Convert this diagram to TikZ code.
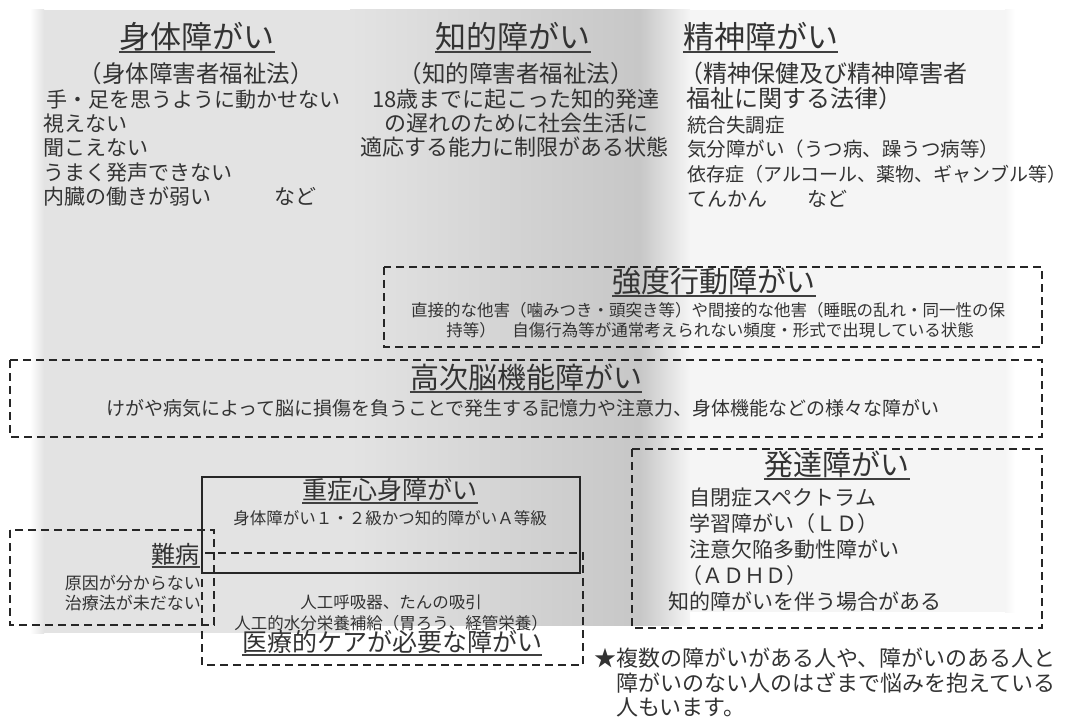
\documentclass[tikz,border=0pt]{standalone}
\usepackage{fontspec}
\newfontfamily\jp{Noto Sans CJK JP}
\newcommand{\fs}[1]{\jp\fontsize{#1}{#1}\selectfont}
\usetikzlibrary{positioning}

\tikzset{
	txt/.style={inner sep=0pt, text=black!80, text height=.86em, text depth=.1em},
	ul/.style={draw=black!75, line width=1.5pt},
	ttl/.style={txt, append after command={\pgfextra{\draw[ul] ([yshift=-2pt]\tikzlastnode.south west) -- ([yshift=-2pt]\tikzlastnode.south east);}}},
	dbox/.style={draw=black!85, line width=1.6pt, dash pattern=on 8pt off 5pt},
	sbox/.style={draw=black!85, line width=1.6pt},
}

\begin{document}
\begin{tikzpicture}[x=1pt, y=-1pt]
	\useasboundingbox (0,0) rectangle (1074,722);

	% Background columns
	\shade [left color=white, right color=black!11] 	(30,10) rectangle (44,633);
	\fill [black!11] 									(44,10) rectangle (350,633);
	\shade [left color=black!11, right color=black!22] 	(350,10) rectangle (640,625);
	\shade [left color=black!22, right color=black!4] 	(640,10) rectangle (690,625);
	\fill [black!4] 									(690,10) rectangle (1005,612);
	\shade [left color=black!4, right color=white] 		(1005,10) rectangle (1015,612);

	% Boxes
	\draw [dbox] (384,267) rectangle (1042,347);
	\draw [dbox] (10,360) rectangle (1042,437);
	\draw [dbox] (632,449) rectangle (1042,628);
	\draw [sbox] (202,477) rectangle (580,573);
	\draw [dbox] (10,530) rectangle (214,625);
	\draw [dbox] (202,553) rectangle (583,665);

	% Nodes {shintai}
	\node [ttl, font=\fs{31}] 				(shintai) 	 at (197,45)  {身体障がい};
	\node [txt, font=\fs{23.5}] 			(shintaiLaw) at (196,79)  {（身体障害者福祉法）};
	\node [txt, font=\fs{21}, anchor=west] 	(s1) 		 at (46,104)  {手・足を思うように動かせない};
	\node [txt, font=\fs{21}, anchor=west] 	(s2) 		 at (43,128)  {視えない};
	\node [txt, font=\fs{21}, anchor=west] 	(s3) 		 at (43,152)  {聞こえない};
	\node [txt, font=\fs{21}, anchor=west] 	(s4) 		 at (43,177)  {うまく発声できない};
	\node [txt, font=\fs{21}, anchor=west] 	(s5) 		 at (43,201)  {内臓の働きが弱い　　　など};

	% Nodes {chiteki}
	\node [ttl, font=\fs{31}] 				(chiteki) 	 at (513,45)  {知的障がい};
	\node [txt, font=\fs{23.5}] 			(chitekiLaw) at (516,79)  {（知的障害者福祉法）};
	\node [txt, font=\fs{22}] 				(c1) 		 at (516,104) {18歳までに起こった知的発達};
	\node [txt, font=\fs{22}] 				(c2) 		 at (516,128) {の遅れのために社会生活に};
	\node [txt, font=\fs{22}] 				(c3) 		 at (514,152) {適応する能力に制限がある状態};

	% Nodes {seishin}
	\node [ttl, font=\fs{31}, anchor=west] 	(seishin) 	 at (683,45)  {精神障がい};
	\node [txt, font=\fs{24}, anchor=west] 	(seishinLaw) at (679,79)  {（精神保健及び精神障害者};
	\node [txt, font=\fs{24}, anchor=west] 	(seishinLaw2) at (686,104) {福祉に関する法律）};
	\node [txt, font=\fs{19.5}, anchor=west] (p1) 		 at (687,129) {統合失調症};
	\node [txt, font=\fs{19.5}, anchor=west] (p2) 		 at (687,153) {気分障がい（うつ病、躁うつ病等）};
	\node [txt, font=\fs{19}, anchor=west] 	(p3) 		 at (687,178) {依存症（アルコール、薬物、ギャンブル等）};
	\node [txt, font=\fs{20}, anchor=west] 	(p4) 		 at (687,203) {てんかん　　など};

	% Nodes {kyodo, koji}
	\node [ttl, font=\fs{29}] 				(kyodo) 	 at (714,289) {強度行動障がい};
	\node [txt, font=\fs{16.5}] 			(k1) 		 at (708,313) {直接的な他害（噛みつき・頭突き等）や間接的な他害（睡眠の乱れ・同一性の保};
	\node [txt, font=\fs{16.5}] 			(k2) 		 at (710,333) {持等）　自傷行為等が通常考えられない頻度・形式で出現している状態};
	\node [ttl, font=\fs{29}] 				(koji) 		 at (526,385) {高次脳機能障がい};
	\node [txt, font=\fs{19}] 				(h1) 		 at (523,412) {けがや病気によって脳に損傷を負うことで発生する記憶力や注意力、身体機能などの様々な障がい};

	% Nodes {hattatsu}
	\node [ttl, font=\fs{29}] 				(hattatsu) 	 at (837,472) {発達障がい};
	\node [txt, font=\fs{21}, anchor=west] 	(d1) 		 at (689,502) {自閉症スペクトラム};
	\node [txt, font=\fs{21}, anchor=west] 	(d2) 		 at (689,528) {学習障がい（ＬＤ）};
	\node [txt, font=\fs{21}, anchor=west] 	(d3) 		 at (689,554) {注意欠陥多動性障がい};
	\node [txt, font=\fs{21}, anchor=west] 	(d4) 		 at (681,580) {（ＡＤＨＤ）};
	\node [txt, font=\fs{21}, anchor=west] 	(d5) 		 at (668,606) {知的障がいを伴う場合がある};

	% Nodes {juusho, nanbyo, iryo}
	\node [ttl, font=\fs{25}] 				(juusho) 	 at (390,496) {重症心身障がい};
	\node [txt, font=\fs{16.5}] 			(j1) 		 at (390,521) {身体障がい１・２級かつ知的障がいＡ等級};
	\node [ttl, font=\fs{24}, anchor=east] 	(nanbyo) 	 at (200,560) {難病};
	\node [txt, font=\fs{17}, anchor=east] 	(n1) 		 at (201,586) {原因が分からない};
	\node [txt, font=\fs{17}, anchor=east] 	(n2) 		 at (201,606) {治療法が未だない};
	\node [txt, font=\fs{16.5}] 			(i1) 		 at (391,605) {人工呼吸器、たんの吸引};
	\node [txt, font=\fs{16.5}] 			(i2) 		 at (391,626) {人工的水分栄養補給（胃ろう、経管栄養）};
	\node [ttl, font=\fs{25}] 				(iryo) 		 at (392,648) {医療的ケアが必要な障がい};

	% Note
	\node [txt, font=\fs{22}, anchor=west] 	(note1) 	 at (594,663) {★複数の障がいがある人や、障がいのある人と};
	\node [txt, font=\fs{22}, anchor=west] 	(note2) 	 at (616,688) {障がいのない人のはざまで悩みを抱えている};
	\node [txt, font=\fs{22}, anchor=west] 	(note3) 	 at (616,712) {人もいます。};
\end{tikzpicture}
\end{document}
